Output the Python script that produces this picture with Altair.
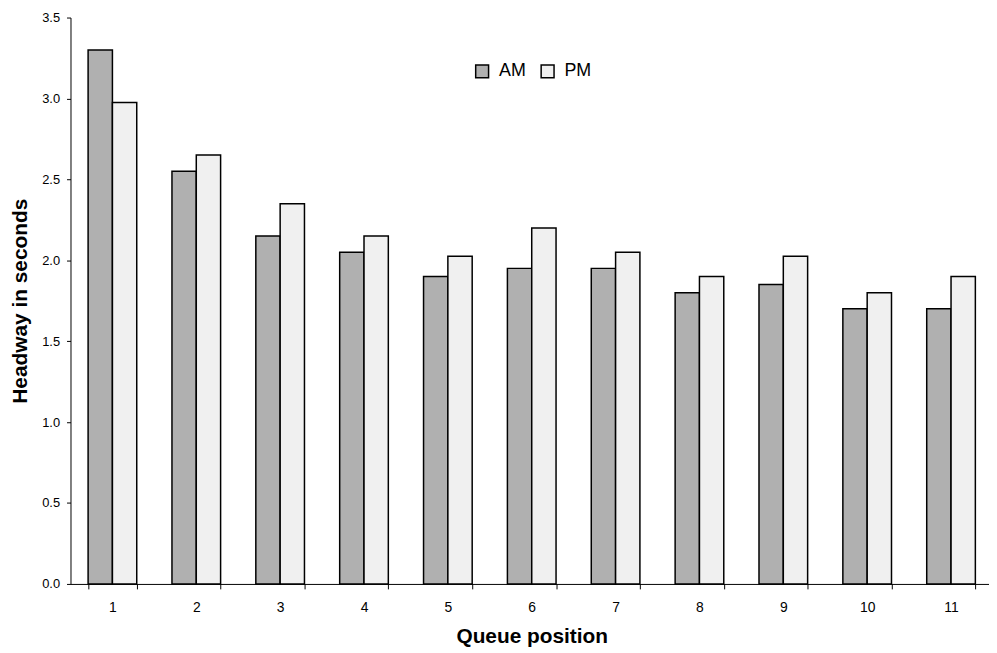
import altair as alt
import pandas as pd

positions = ["1", "2", "3", "4", "5", "6", "7", "8", "9", "10", "11"]
periods = ["AM", "PM"]
am_values = [3.30, 2.55, 2.15, 2.05, 1.90, 1.95, 1.95, 1.80, 1.85, 1.70, 1.70]
pm_values = [2.975, 2.65, 2.35, 2.15, 2.025, 2.20, 2.05, 1.90, 2.025, 1.80, 1.90]
y_ticks = [0.0, 0.5, 1.0, 1.5, 2.0, 2.5, 3.0, 3.5]

rows = []
for p, a, b in zip(positions, am_values, pm_values):
    rows.append({"position": p, "period": "AM", "value": a})
    rows.append({"position": p, "period": "PM", "value": b})
df = pd.DataFrame(rows)

FONT = "Liberation Sans"

chart = alt.Chart(df).mark_bar(stroke="black", strokeWidth=1.5).encode(
    x=alt.X(
        "position:N",
        sort=positions,
        scale=alt.Scale(paddingInner=0.42, paddingOuter=0.21, range=[0, 930]),
        axis=alt.Axis(
            title="Queue position",
            labelAngle=0,
            tickBand="extent",
            tickSize=5,
            labelPadding=12,
            labelFontSize=14,
            titleFontSize=21,
            titleFontWeight="bold",
            titleY=59,
            titleBaseline="alphabetic",
        ),
    ),
    xOffset=alt.XOffset("period:N", sort=periods,
                        scale=alt.Scale(paddingInner=0, paddingOuter=0)),
    y=alt.Y(
        "value:Q",
        scale=alt.Scale(domain=[0, 3.5], nice=False),
        axis=alt.Axis(
            title="Headway in seconds",
            values=y_ticks,
            format=".1f",
            grid=False,
            tickSize=4,
            labelPadding=7,
            labelFontSize=13,
            titleFontSize=21,
            titleFontWeight="bold",
            titleX=-44,
            titleY=285.5,
            titleAlign="center",
            titleBaseline="alphabetic",
        ),
    ),
    fill=alt.Fill(
        "period:N",
        scale=alt.Scale(domain=periods, range=["#b0b0b0", "#f0f0f0"]),
        legend=alt.Legend(
            title=None,
            orient="none",
            legendX=406,
            legendY=45,
            direction="horizontal",
            symbolType="square",
            symbolSize=169,
            symbolStrokeColor="black",
            symbolStrokeWidth=1.5,
            labelFontSize=18,
            labelFont=FONT,
            labelColor="black",
            columnPadding=12,
            labelOffset=8,
            padding=0,
        ),
    ),
).properties(
    width=926,
    height=571,
    autosize=alt.AutoSizeParams(type="none"),
    padding={"left": 63, "top": 7, "right": 0, "bottom": 66},
    background="white",
).configure_view(
    stroke=None
).configure_axis(
    domainColor="black",
    tickColor="black",
    labelColor="black",
    titleColor="black",
    labelFont=FONT,
    titleFont=FONT,
    domainWidth=1,
)

chart.save("out.html", embed_options={"renderer": "svg", "actions": False})
